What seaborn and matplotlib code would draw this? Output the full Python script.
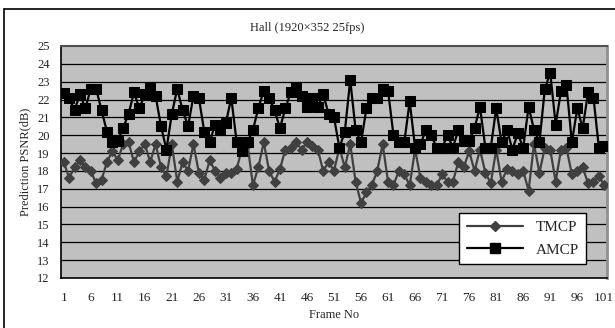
import numpy as np
import pandas as pd
import seaborn as sns
import matplotlib.pyplot as plt
from matplotlib.lines import Line2D

frames = list(range(1, 102))

tmcp = [18.5, 17.6, 18.2, 18.6, 18.2, 18.0, 17.3, 17.5, 18.5, 19.1,
        18.6, 19.5, 19.6, 18.5, 19.1, 19.5, 18.5, 19.5, 18.2, 17.7,
        19.5, 17.4, 18.5, 18.0, 19.5, 17.9, 17.5, 18.6, 18.0, 17.6,
        17.9, 17.9, 18.1, 19.3, 19.5, 17.2, 18.2, 19.6, 18.0, 17.4,
        18.1, 19.2, 19.3, 19.6, 19.2, 19.6, 19.4, 19.2, 18.0, 18.5,
        18.0, 19.3, 18.2, 19.5, 17.4, 16.2, 16.8, 17.2, 18.0, 19.5,
        17.4, 17.2, 18.0, 17.8, 17.2, 19.2, 17.6, 17.4, 17.2, 17.2,
        17.8, 17.4, 17.4, 18.5, 18.2, 19.1, 18.0, 19.2, 17.9, 17.3,
        19.2, 17.4, 18.1, 18.0, 17.8, 18.0, 16.9, 19.5, 17.9, 19.3,
        19.2, 17.4, 19.2, 19.3, 17.8, 18.0, 18.2, 17.3, 17.4, 17.7,
        17.2]

amcp = [22.35, 22.1, 21.4, 22.3, 21.5, 22.6, 22.6, 21.4, 20.2, 19.6,
        19.7, 20.4, 21.2, 22.4, 21.5, 22.3, 22.7, 22.2, 20.5, 19.2,
        21.2, 22.6, 21.4, 20.5, 22.2, 22.1, 20.2, 19.6, 20.6, 20.3,
        20.7, 22.1, 19.6, 19.1, 19.6, 20.3, 21.5, 22.5, 22.1, 21.4,
        20.4, 21.5, 22.4, 22.7, 22.2, 21.6, 22.1, 21.6, 22.3, 21.2,
        21.0, 19.3, 20.2, 23.1, 20.3, 19.6, 21.5, 22.1, 22.1, 22.6,
        22.5, 20.0, 19.6, 19.6, 21.9, 19.3, 19.5, 20.3, 20.0, 19.3,
        19.3, 20.0, 19.3, 20.3, 19.7, 19.7, 20.4, 21.6, 19.3, 19.3,
        21.5, 19.6, 20.3, 19.2, 20.1, 19.3, 21.6, 20.3, 19.6, 22.6,
        23.5, 20.6, 22.5, 22.8, 19.6, 21.5, 20.4, 22.4, 22.1, 19.3,
        19.4]

df = pd.DataFrame({'Frame': frames, 'TMCP': tmcp, 'AMCP': amcp})

sns.set_style('white')
plt.rcParams['font.family'] = ['Liberation Serif', 'DejaVu Serif']

fig = plt.figure(figsize=(6.15, 3.28), dpi=100)
ax = fig.add_axes([61/615, 1-278/328, 546/615, 232/328])
ax.set_facecolor('#c0c0c0')

for y in range(13, 25):
    ax.axhline(y, color='black', lw=0.9, zorder=1)

sns.lineplot(data=df, x='Frame', y='TMCP', ax=ax, color='#404040', lw=1.6,
             marker='D', markersize=5.5, markeredgecolor='#404040', zorder=3)
sns.lineplot(data=df, x='Frame', y='AMCP', ax=ax, color='black', lw=1.6,
             marker='s', markersize=6.5, markeredgecolor='black', zorder=4)

ax.set_xlim(0.5, 101.5)
ax.set_ylim(12, 25)
ax.set_yticks(range(12, 26))
ax.set_xticks(frames, minor=True)
ax.set_xticks(frames[::5])
ax.tick_params(axis='x', which='both', direction='in', length=3, width=0.8,
               labelsize=9.5, pad=10)
ax.tick_params(axis='y', length=0, labelsize=9, pad=8)

for s in ['left', 'bottom']:
    ax.spines[s].set_color('black')
    ax.spines[s].set_linewidth(1.2)
ax.spines['top'].set_color('#505050')
ax.spines['top'].set_linewidth(1.5)
ax.spines['right'].set_color('#909090')
ax.spines['right'].set_linewidth(2)

ax.set_xlabel('Frame No', fontsize=9, labelpad=4)
ax.set_ylabel('Prediction PSNR(dB)', fontsize=9, labelpad=4)
fig.text(0.5, 1-28/328, 'Hall (1920×352 25fps)', ha='center', va='center', fontsize=9)

handles = [Line2D([], [], color='#404040', lw=1.6, marker='D', markersize=5.5),
           Line2D([], [], color='black', lw=1.6, marker='s', markersize=6.5)]
leg = ax.legend(handles, ['TMCP', 'AMCP'], loc='lower right',
                bbox_to_anchor=(594/615, 1-272/328), bbox_transform=fig.transFigure,
                fancybox=False, framealpha=1, edgecolor='black', fontsize=11,
                handlelength=3.7, borderpad=0.5, labelspacing=0.6)
leg.get_frame().set_linewidth(1)

fig.add_artist(Line2D([4/615, 4/615], [0, 1-9/328], color='black', lw=1.2,
                      transform=fig.transFigure))
fig.add_artist(Line2D([4/615, 1], [1-9/328, 1-9/328], color='black', lw=1.2,
                      transform=fig.transFigure))

fig.savefig('out.png', dpi=100)
